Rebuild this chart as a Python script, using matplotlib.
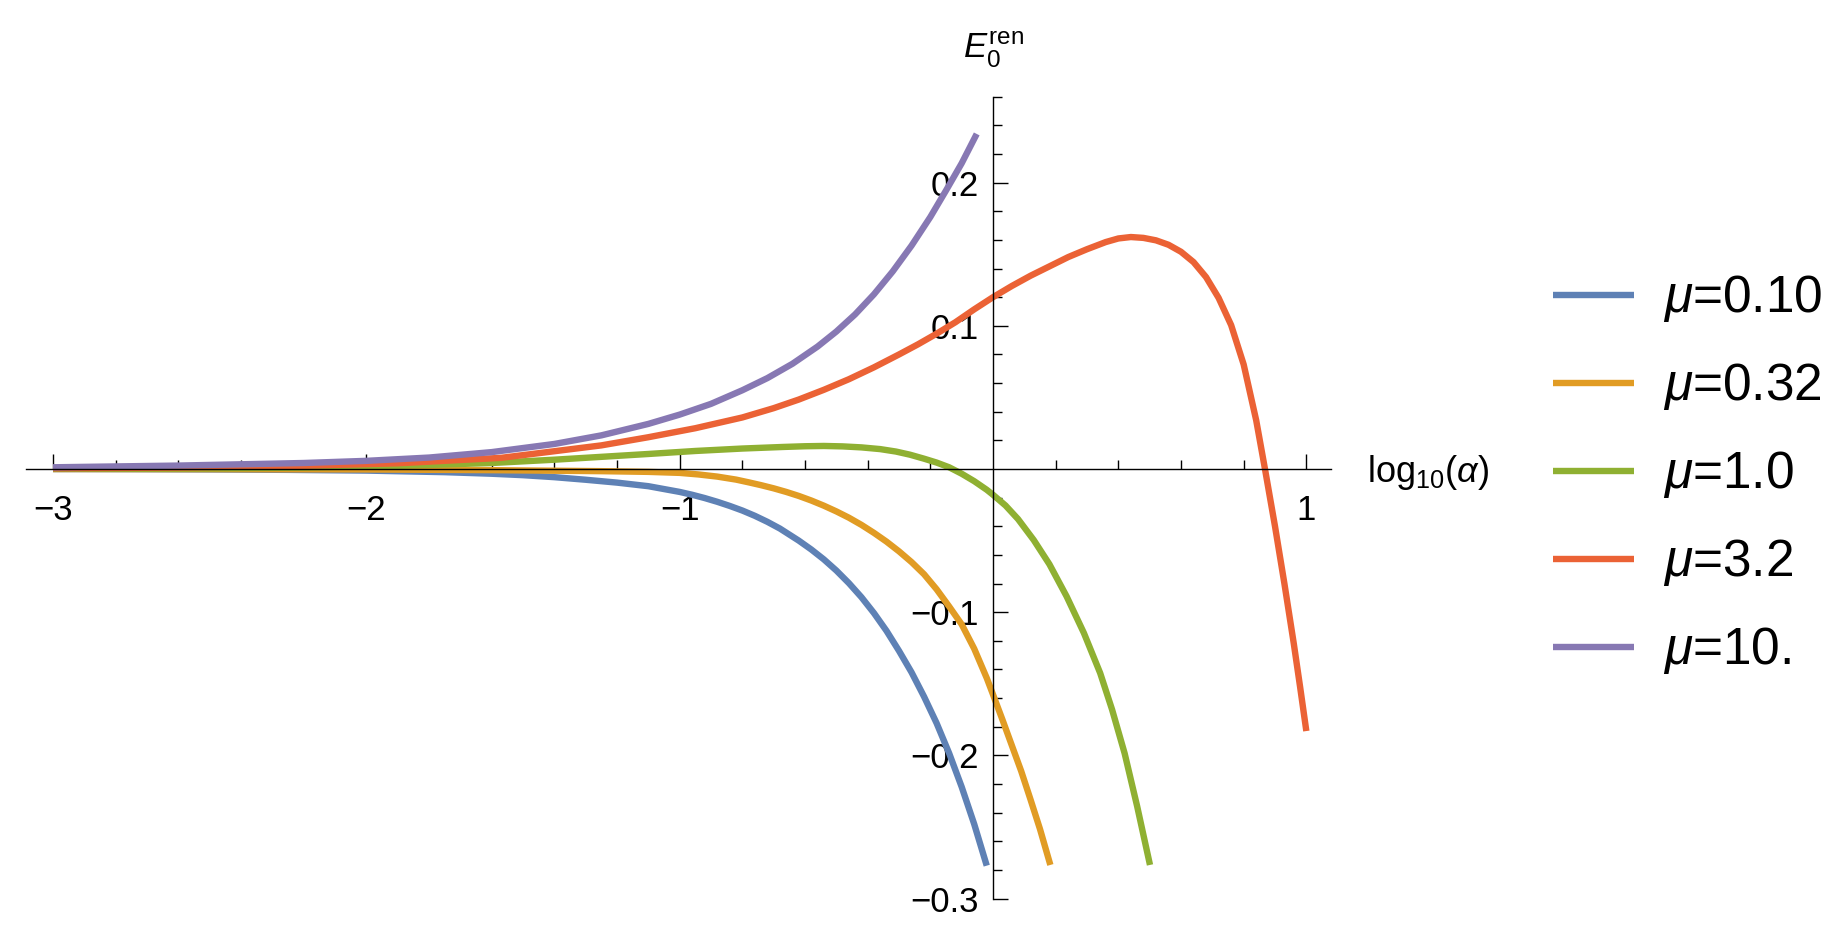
import numpy as np
import matplotlib
matplotlib.use("Agg")
import matplotlib.pyplot as plt

plt.rcParams['font.family'] = ['Liberation Sans', 'DejaVu Sans']
plt.rcParams['mathtext.fontset'] = 'custom'
plt.rcParams['mathtext.rm'] = 'Liberation Sans'
plt.rcParams['mathtext.it'] = 'Liberation Sans:italic'

# values (x = log10(alpha), y = E0^ren)
blue_x = [-3.0, -2.75, -2.5, -2.25, -2.0, -1.75, -1.6, -1.5, -1.4, -1.3, -1.2, -1.1, -1.0,
          -0.96, -0.92, -0.88, -0.84, -0.80, -0.76, -0.72, -0.68, -0.62, -0.58, -0.54, -0.50,
          -0.46, -0.42, -0.38, -0.34, -0.30, -0.26, -0.22, -0.18, -0.14, -0.10, -0.06, -0.02]
blue_y = [0.0, -0.0001, -0.0003, -0.0006, -0.0011, -0.0022, -0.0033, -0.0043, -0.0057, -0.0075,
          -0.0095, -0.012, -0.016, -0.018, -0.0203, -0.0229, -0.0258, -0.029, -0.0327, -0.0369,
          -0.0416, -0.050, -0.0562, -0.0631, -0.0709, -0.0797, -0.0895, -0.1006, -0.113, -0.127,
          -0.142, -0.159, -0.1775, -0.1985, -0.222, -0.248, -0.277]

orange_x = [-3.0, -2.5, -2.0, -1.6, -1.25, -1.1, -1.0, -0.94, -0.88, -0.82, -0.78, -0.74,
            -0.70, -0.66, -0.62, -0.58, -0.54, -0.50, -0.46, -0.42, -0.38, -0.34, -0.30, -0.26,
            -0.22, -0.18, -0.14, -0.10, -0.06, -0.02, 0.0, 0.03, 0.06, 0.09, 0.12, 0.15, 0.183]
orange_y = [0.0, -0.0001, -0.0003, -0.0008, -0.0015, -0.002, -0.0027, -0.0038, -0.0053, -0.0074,
            -0.0093, -0.0113, -0.0135, -0.016, -0.0188, -0.022, -0.0256, -0.0296, -0.034, -0.039,
            -0.0446, -0.0507, -0.0575, -0.065, -0.0735, -0.084, -0.096, -0.1085, -0.1255, -0.146,
            -0.1575, -0.175, -0.193, -0.211, -0.231, -0.2515, -0.2765]

green_x = [-3.0, -2.5, -2.2, -1.9, -1.6, -1.4, -1.25, -1.1, -0.95, -0.80, -0.67, -0.60, -0.54,
           -0.48, -0.42, -0.36, -0.31, -0.265, -0.22, -0.18, -0.14, -0.10, -0.06, -0.02, 0.0,
           0.04, 0.08, 0.13, 0.18, 0.235, 0.29, 0.342, 0.38, 0.42, 0.46, 0.501]
green_y = [0.0001, 0.0004, 0.001, 0.0022, 0.0042, 0.0065, 0.0085, 0.0105, 0.0126, 0.0143, 0.0154,
           0.0159, 0.0161, 0.0158, 0.0151, 0.0139, 0.0122, 0.0100, 0.0072, 0.0045, 0.0012,
           -0.0033, -0.0085, -0.0145, -0.018, -0.0255, -0.035, -0.0496, -0.0665, -0.089, -0.1145,
           -0.1425, -0.168, -0.1985, -0.2355, -0.2765]

red_x = [-3.0, -2.6, -2.2, -1.9, -1.57, -1.25, -1.1, -0.95, -0.80, -0.70, -0.62, -0.54, -0.46,
         -0.38, -0.30, -0.24, -0.18, -0.12, -0.06, 0.0, 0.06, 0.12, 0.18, 0.24, 0.30, 0.36, 0.40,
         0.44, 0.48, 0.52, 0.56, 0.60, 0.64, 0.68, 0.72, 0.76, 0.80, 0.84, 0.868, 0.90, 0.93,
         0.96, 0.98, 1.0]
red_y = [0.0005, 0.001, 0.0023, 0.004, 0.0078, 0.0165, 0.0222, 0.0285, 0.036, 0.0425, 0.0485,
         0.0553, 0.0627, 0.071, 0.080, 0.087, 0.0945, 0.1025, 0.1115, 0.1200, 0.1278, 0.135,
         0.1415, 0.148, 0.1535, 0.1585, 0.1610, 0.1620, 0.1614, 0.1597, 0.1566, 0.1517, 0.1445,
         0.1340, 0.1195, 0.1005, 0.073, 0.034, 0.0, -0.040, -0.080, -0.122, -0.152, -0.183]

purple_x = [-3.0, -2.6, -2.2, -2.0, -1.8, -1.6, -1.4, -1.25, -1.1, -1.0, -0.9, -0.8, -0.72,
            -0.64, -0.56, -0.50, -0.44, -0.38, -0.32, -0.26, -0.20, -0.15, -0.10, -0.052]
purple_y = [0.0012, 0.0024, 0.0042, 0.0057, 0.008, 0.0118, 0.0175, 0.0235, 0.0315, 0.038, 0.0455,
            0.055, 0.0635, 0.0735, 0.0855, 0.096, 0.108, 0.122, 0.138, 0.156, 0.176, 0.1945,
            0.2135, 0.234]

labels = [r'$\mu$=0.10', r'$\mu$=0.32', r'$\mu$=1.0', r'$\mu$=3.2', r'$\mu$=10.']
colors = ['#5E81B5', '#E19C24', '#8FB032', '#EB6235', '#8778B3']

W, H = 1848, 936
fig = plt.figure(figsize=(W / 100, H / 100), dpi=100)
# axes box placed so x=0 / y=0 land where the reference axes cross
ax = fig.add_axes([26.1 / W, (H - 898.6) / H, 1305.3 / W, 801.9 / H])
ax.set_xlim(-3.086, 1.08)
ax.set_ylim(-0.3, 0.26)

series = [(blue_x, blue_y), (orange_x, orange_y), (green_x, green_y),
          (red_x, red_y), (purple_x, purple_y)]
for (xs, ys), c, lab in zip(series, colors, labels):
    ax.plot(xs, ys, color=c, lw=4.6, label=lab, solid_capstyle='butt',
            solid_joinstyle='round')

for s in ['top', 'right']:
    ax.spines[s].set_visible(False)
ax.spines['left'].set_position(('data', 0))
ax.spines['bottom'].set_position(('data', 0))
for s in ['left', 'bottom']:
    ax.spines[s].set_linewidth(1.0)

ax.set_xticks([-3, -2, -1, 1])
ax.set_xticklabels(['\u22123', '\u22122', '\u22121', '1'])
ax.set_xticks([v for v in np.arange(-2.8, 1.0, 0.2) if abs(v - round(v)) > 1e-6], minor=True)
ax.set_yticks([-0.3, -0.2, -0.1, 0.1, 0.2])
ax.set_yticklabels(['\u22120.3', '\u22120.2', '\u22120.1', '0.1', '0.2'])
ax.set_yticks([v for v in np.arange(-0.28, 0.27, 0.02)
               if abs(v * 10 - round(v * 10)) > 1e-6], minor=True)

ax.tick_params(which='major', direction='in', length=10.8, width=1.0, labelsize=25)
ax.tick_params(which='minor', direction='in', length=6.2, width=1.0)
ax.tick_params(axis='x', which='major', pad=18)
ax.tick_params(axis='y', which='major', pad=10)

fig.text(963 / W, (H - 58) / H, r'$E_0^{\mathrm{ren}}$', fontsize=25,
         ha='left', va='baseline')
fig.text(1367 / W, (H - 482) / H, r'$\mathrm{log}_{10}(\alpha)$', fontsize=26,
         ha='left', va='baseline')

ax.legend(loc='center left', bbox_to_anchor=(1553 / W, (H - 475) / H),
          bbox_transform=fig.transFigure, frameon=False, fontsize=37,
          handlelength=1.57, handletextpad=0.565, labelspacing=0.72,
          borderpad=0, borderaxespad=0)

fig.savefig('out.png', dpi=100)
